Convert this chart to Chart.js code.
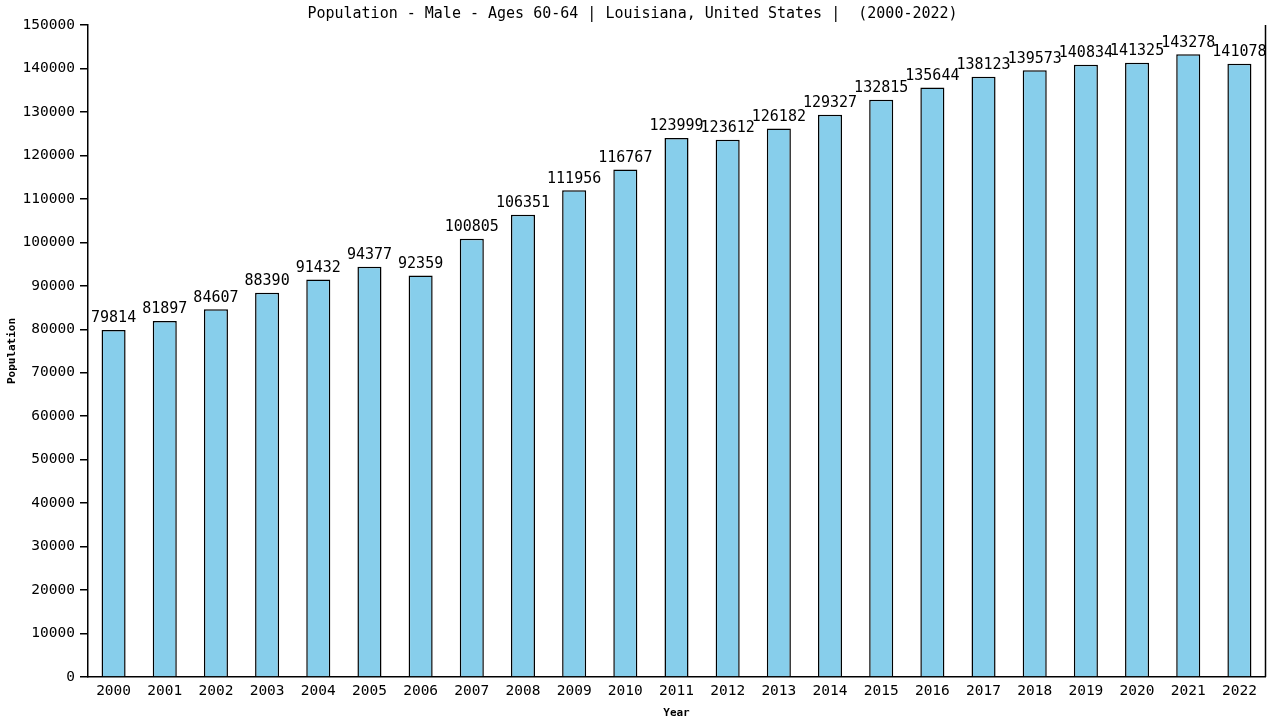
<!DOCTYPE html>
<html>
<head>
<meta charset="utf-8">
<script src="https://cdn.jsdelivr.net/npm/chart.js@4.4.1/dist/chart.umd.min.js"></script>
<style>
  html, body { margin: 0; padding: 0; background: #fff; }
  #wrap { width: 1280px; height: 720px; }
</style>
</head>
<body>
<div id="wrap"><canvas id="popChart" width="1280" height="720"></canvas></div>
<script>
const years = ['2000','2001','2002','2003','2004','2005','2006','2007','2008','2009','2010','2011',
  '2012','2013','2014','2015','2016','2017','2018','2019','2020','2021','2022'];
const population = [79814, 81897, 84607, 88390, 91432, 94377, 92359, 100805, 106351, 111956, 116767, 123999,
  123612, 126182, 129327, 132815, 135644, 138123, 139573, 140834, 141325, 143278, 141078];
const yMax = 150000;
const yStep = 10000;

const mono = 'DejaVu Sans Mono';

// value labels on top of each bar + right border line
const barLabels = {
  id: 'barLabels',
  afterDatasetsDraw(chart) {
    const ctx = chart.ctx;
    const meta = chart.getDatasetMeta(0);
    ctx.save();
    ctx.font = '15px "' + mono + '"';
    ctx.fillStyle = '#000';
    ctx.textAlign = 'center';
    ctx.textBaseline = 'bottom';
    meta.data.forEach((bar, i) => {
      ctx.fillText(String(population[i]), bar.x, bar.y - 4);
    });
    const a = chart.chartArea;
    ctx.strokeStyle = '#000';
    ctx.lineWidth = 1.5;
    ctx.beginPath();
    ctx.moveTo(Math.round(a.right) + 0.5, a.top);
    ctx.lineTo(Math.round(a.right) + 0.5, a.bottom);
    ctx.stroke();
    ctx.restore();
  }
};

const config = {
  type: 'bar',
  data: {
    labels: years,
    datasets: [{
      data: population,
      backgroundColor: '#87CEEB',
      borderColor: '#000',
      borderWidth: 1.5,
      barPercentage: 0.47,
      categoryPercentage: 1.0
    }]
  },
  options: {
    responsive: false,
    animation: false,
    layout: { padding: { left: 0, right: 15, top: 0, bottom: 0 } },
    plugins: {
      legend: { display: false },
      tooltip: { enabled: false },
      title: {
        display: true,
        text: 'Population - Male - Ages 60-64 | Louisiana, United States |  (2000-2022)',
        color: '#000',
        font: { family: mono, size: 15, weight: 'normal' },
        padding: { top: 5, bottom: 2 }
      }
    },
    scales: {
      x: {
        grid: { display: false, drawTicks: false },
        border: { color: '#000', width: 1.5 },
        ticks: { color: '#000', font: { family: mono, size: 14.5 }, padding: 6, maxRotation: 0 },
        title: { display: true, text: 'Year', color: '#000', font: { family: mono, size: 11, weight: 'bold' }, padding: { top: 2, bottom: 0 } },
        afterFit(s) { s.height = 43; }
      },
      y: {
        min: 0,
        max: yMax,
        grid: { drawOnChartArea: false, drawTicks: true, tickLength: 8, color: '#000', lineWidth: 1.5 },
        border: { color: '#000', width: 1.5 },
        ticks: {
          stepSize: yStep,
          color: '#000',
          font: { family: mono, size: 14.5 },
          padding: 5,
          callback: v => String(v)
        },
        title: { display: true, text: 'Population', color: '#000', font: { family: mono, size: 11, weight: 'bold' }, padding: { top: 6, bottom: 2 } },
        afterFit(s) { s.width = 88; }
      }
    }
  },
  plugins: [barLabels]
};

const myChart = new Chart(document.getElementById('popChart'), config);
</script>
</body>
</html>
